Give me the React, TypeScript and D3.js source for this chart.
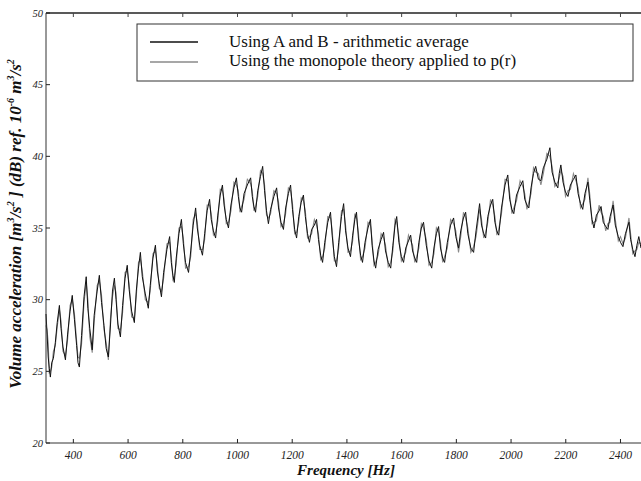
import React from 'react';
import * as d3 from 'd3';

// frequency samples (Hz)
const freqs = [
  300, 304, 308, 312, 316, 321, 327, 334, 341, 349, 355, 362, 371, 379, 388, 396, 404, 412, 417, 422,
  430, 439, 447, 453, 460, 469, 476, 487, 495, 503, 512, 520, 528, 536, 543, 550, 556, 563, 572, 580,
  589, 597, 604, 613, 623, 630, 638, 645, 652, 663, 674, 681, 691, 700, 707, 714, 722, 730, 742, 752,
  758, 764, 769, 776, 786, 795, 802, 810, 821, 829, 838, 847, 853, 862, 872, 880, 889, 898, 904, 912,
  920, 928, 937, 945, 951, 959, 967, 976, 987, 996, 1003, 1009, 1015, 1024, 1036, 1048, 1054, 1060, 1066, 1074,
  1084, 1092, 1099, 1106, 1113, 1121, 1133, 1143, 1150, 1159, 1168, 1176, 1186, 1194, 1201, 1209, 1216, 1224, 1233, 1241,
  1248, 1256, 1263, 1271, 1281, 1289, 1296, 1304, 1311, 1319, 1330, 1340, 1346, 1354, 1362, 1370, 1380, 1388, 1395, 1404,
  1413, 1421, 1429, 1435, 1442, 1450, 1457, 1466, 1477, 1486, 1492, 1499, 1505, 1514, 1525, 1534, 1541, 1551, 1560, 1568,
  1576, 1582, 1590, 1599, 1607, 1615, 1625, 1633, 1640, 1648, 1655, 1663, 1672, 1680, 1690, 1700, 1710, 1718, 1727, 1735,
  1742, 1750, 1757, 1767, 1779, 1790, 1798, 1808, 1816, 1826, 1834, 1842, 1853, 1863, 1872, 1885, 1892, 1900, 1907, 1915,
  1925, 1933, 1941, 1948, 1955, 1965, 1978, 1988, 1995, 2003, 2010, 2020, 2033, 2043, 2050, 2058, 2065, 2073, 2082, 2090,
  2100, 2109, 2118, 2131, 2142, 2150, 2160, 2171, 2176, 2182, 2190, 2199, 2208, 2217, 2228, 2237, 2245, 2254, 2262, 2270,
  2281, 2288, 2296, 2303, 2312, 2322, 2329, 2337, 2346, 2354, 2362, 2373, 2381, 2392, 2400, 2409, 2418, 2431, 2437, 2445,
  2453, 2460, 2467, 2475,
];

// "Using A and B - arithmetic average" (black)
const avgAB = [
  29.0, 27.6, 26.0, 25.2, 24.6, 25.6, 25.9, 27.0, 28.4, 29.6, 28.0, 26.7, 25.8, 27.6, 29.2, 30.3, 28.6, 26.8, 25.6, 25.3,
  27.5, 30.2, 31.6, 29.4, 28.0, 26.5, 28.9, 30.6, 31.7, 29.8, 28.2, 26.6, 26.0, 28.3, 30.6, 31.5, 30.0, 28.3, 27.4, 29.6,
  31.5, 32.4, 30.7, 29.2, 28.4, 30.6, 32.2, 33.3, 31.6, 30.4, 29.4, 31.0, 32.9, 33.8, 32.0, 31.1, 30.2, 31.9, 33.5, 34.4,
  32.6, 31.7, 31.2, 32.9, 34.6, 35.6, 33.9, 32.6, 31.9, 33.4, 35.2, 36.4, 35.0, 33.8, 33.1, 34.6, 36.2, 37.0, 35.6, 34.8,
  34.3, 35.9, 37.3, 38.0, 36.6, 35.6, 35.0, 36.6, 37.8, 38.5, 37.2, 36.4, 36.1, 37.4, 38.0, 38.5, 37.2, 36.5, 36.1, 37.6,
  38.6, 39.3, 37.6, 36.2, 35.3, 36.3, 37.2, 37.8, 36.4, 35.4, 34.9, 36.4, 37.4, 38.0, 36.3, 34.9, 34.3, 35.8, 36.8, 37.3,
  35.8, 34.6, 34.0, 34.9, 35.2, 35.6, 34.2, 33.1, 32.6, 34.0, 35.4, 36.1, 34.5, 33.0, 32.3, 34.0, 35.8, 36.7, 34.8, 33.6,
  33.0, 34.5, 35.6, 36.1, 34.3, 33.1, 32.6, 34.0, 35.0, 35.6, 33.8, 32.7, 32.2, 33.5, 34.2, 34.7, 33.4, 32.6, 32.2, 33.8,
  35.2, 35.8, 34.0, 33.0, 32.6, 33.6, 34.1, 34.5, 33.4, 32.9, 32.6, 34.0, 35.0, 35.4, 33.8, 32.7, 32.2, 33.6, 34.6, 35.1,
  33.6, 32.9, 32.6, 34.0, 35.2, 35.7, 34.4, 33.6, 34.8, 35.7, 36.1, 34.6, 33.6, 33.3, 34.8, 36.7, 35.2, 34.6, 34.3, 35.8,
  36.6, 37.0, 35.4, 34.8, 34.5, 36.4, 38.0, 38.7, 37.0, 36.3, 36.0, 37.3, 37.9, 38.3, 37.0, 36.6, 36.4, 37.8, 38.8, 39.3,
  38.4, 38.3, 39.2, 39.8, 40.6, 38.9, 38.2, 37.8, 38.8, 39.4, 38.2, 37.5, 37.2, 38.0, 38.4, 38.7, 37.4, 36.7, 36.3, 37.4,
  38.2, 36.9, 35.6, 35.0, 35.9, 36.2, 36.5, 35.4, 35.1, 34.9, 35.8, 36.6, 35.2, 34.4, 34.0, 33.7, 34.6, 35.4, 34.2, 33.5,
  33.0, 33.8, 34.4, 33.6,
];

// "Using the monopole theory applied to p(r)" (grey)
const monopole = [
  28.2, 27.9, 27.0, 24.9, 25.0, 25.3, 26.4, 26.8, 28.1, 29.3, 28.5, 26.4, 26.1, 27.2, 29.6, 30.0, 29.0, 27.1, 26.0, 25.9,
  26.9, 29.8, 31.2, 30.0, 27.4, 26.3, 28.4, 31.0, 31.3, 30.3, 27.9, 27.0, 25.8, 28.8, 30.2, 31.0, 30.5, 28.0, 27.9, 29.1,
  31.9, 32.0, 31.1, 28.8, 28.7, 30.2, 32.6, 32.8, 32.0, 30.0, 29.8, 30.6, 33.2, 33.4, 32.4, 30.8, 30.6, 31.5, 33.9, 34.0,
  33.0, 31.4, 31.6, 32.5, 35.0, 35.1, 34.3, 32.2, 32.3, 33.0, 35.6, 36.0, 35.4, 33.5, 33.5, 34.2, 36.6, 36.6, 36.0, 34.5,
  34.7, 35.5, 37.7, 37.6, 37.0, 35.3, 35.4, 36.2, 38.2, 38.0, 37.6, 36.1, 36.5, 37.0, 38.4, 38.1, 37.6, 36.2, 36.5, 37.2,
  39.0, 38.8, 38.0, 35.9, 35.7, 36.0, 37.6, 37.4, 36.8, 35.1, 35.3, 36.0, 37.8, 37.6, 36.7, 34.6, 34.7, 35.4, 37.1, 36.9,
  36.2, 34.3, 34.4, 34.6, 35.6, 35.2, 34.6, 32.8, 33.0, 33.6, 35.8, 35.7, 34.9, 32.7, 32.7, 33.6, 36.2, 36.3, 35.2, 33.3,
  33.4, 34.1, 36.0, 35.7, 34.7, 32.8, 33.0, 33.6, 35.4, 35.2, 34.2, 32.4, 32.6, 33.1, 34.6, 34.3, 33.8, 32.3, 32.6, 33.4,
  35.6, 35.4, 34.4, 32.7, 33.0, 33.3, 34.5, 34.1, 33.8, 32.6, 33.0, 33.6, 35.3, 35.0, 34.2, 32.4, 32.6, 33.2, 35.0, 34.7,
  34.0, 32.6, 33.0, 33.6, 35.6, 35.3, 34.8, 33.3, 34.4, 36.1, 35.7, 35.0, 33.3, 33.7, 34.4, 36.3, 35.6, 34.3, 34.7, 35.4,
  37.0, 36.6, 35.8, 34.5, 34.9, 36.0, 38.4, 38.3, 37.4, 36.0, 36.4, 36.9, 38.3, 37.9, 37.4, 36.3, 36.8, 37.4, 39.2, 38.9,
  38.8, 38.0, 38.8, 40.2, 40.0, 39.3, 37.9, 38.2, 38.5, 39.0, 38.6, 37.2, 37.6, 37.7, 38.8, 38.3, 37.8, 36.4, 36.7, 37.0,
  38.5, 37.3, 35.3, 35.4, 35.5, 36.6, 36.1, 35.8, 34.8, 35.3, 35.4, 36.9, 35.6, 34.1, 34.4, 33.9, 34.3, 35.7, 34.6, 33.2,
  33.4, 33.5, 34.0, 33.9,
];

const xTicks = [400, 600, 800, 1000, 1200, 1400, 1600, 1800, 2000, 2200, 2400];
const yTicks = [20, 25, 30, 35, 40, 45, 50];
const legendLabels = ['Using A and B - arithmetic average', 'Using the monopole theory applied to p(r)'];
const seriesColors = ['#111', '#8a8a8a'];

const W = 641;
const H = 481;
const left = 46, right = 641, top = 13, bottom = 443;

const App = () => {
  const x = d3.scaleLinear().domain([300, 2475]).range([left, right]);
  const y = d3.scaleLinear().domain([20, 50]).range([bottom, top]);

  const line = d3.line<number>()
    .x((_, i) => x(freqs[i]))
    .y(d => y(d));

  const serif = '"Liberation Serif", "DejaVu Serif", serif';

  return (
    <svg width={W} height={H} style={{ position: 'absolute', left: 0, top: 0, background: '#fff' }}
      fontFamily={serif}>
      <rect width={W} height={H} fill="#fff" />

      {/* data */}
      <path d={line(monopole) || ''} fill="none" stroke={seriesColors[1]} strokeWidth={1.1} />
      <path d={line(avgAB) || ''} fill="none" stroke={seriesColors[0]} strokeWidth={1} />

      {/* frame */}
      <line x1={left} x2={right} y1={top} y2={top} stroke="#222" strokeWidth={1.6} />
      <line x1={left} x2={right} y1={bottom} y2={bottom} stroke="#333" strokeWidth={1} />
      <line x1={left} x2={left} y1={top} y2={bottom} stroke="#333" strokeWidth={1} />

      {/* x ticks */}
      {xTicks.map(t => (
        <g key={t}>
          <line x1={x(t)} x2={x(t)} y1={bottom} y2={bottom - 4} stroke="#222" />
          <line x1={x(t)} x2={x(t)} y1={top} y2={top + 4} stroke="#444" />
          <text x={x(t)} y={459} textAnchor="middle" fontSize={11.5} fontStyle="italic" fill="#222">{t}</text>
        </g>
      ))}

      {/* y ticks */}
      {yTicks.map(t => (
        <g key={t}>
          <line x1={left} x2={left + 4} y1={y(t)} y2={y(t)} stroke="#222" />
          <text x={left - 3} y={y(t) + 3.5} textAnchor="end" fontSize={10.5} fontStyle="italic" fill="#222">{t}</text>
        </g>
      ))}

      {/* legend */}
      <rect x={137} y={24} width={496} height={57} fill="#fff" stroke="#333" strokeWidth={1} />
      {legendLabels.map((label, i) => (
        <g key={label}>
          <line x1={150} x2={198} y1={42 + i * 20} y2={42 + i * 20} stroke={seriesColors[i]} strokeWidth={1.3} />
          <text x={229} y={47 + i * 19} fontSize={17} fill="#111">{label}</text>
        </g>
      ))}

      {/* axis titles */}
      <text x={346} y={475} textAnchor="middle" fontSize={15} fontWeight="bold" fontStyle="italic" fill="#111">
        Frequency [Hz]
      </text>
      <text transform="translate(21,224) rotate(-90)" textAnchor="middle" fontSize={17}
        fontWeight="bold" fontStyle="italic" fill="#111">
        Volume acceleration [m<tspan dy={-7} fontSize={10}>3</tspan><tspan dy={7}>/s</tspan>
        <tspan dy={-7} fontSize={10}>2</tspan><tspan dy={7}> ] (dB) ref. 10</tspan>
        <tspan dy={-7} fontSize={10}>-6</tspan><tspan dy={7}> m</tspan>
        <tspan dy={-7} fontSize={10}>3</tspan><tspan dy={7}>/s</tspan>
        <tspan dy={-7} fontSize={10}>2</tspan>
      </text>
    </svg>
  );
};

export default App;
